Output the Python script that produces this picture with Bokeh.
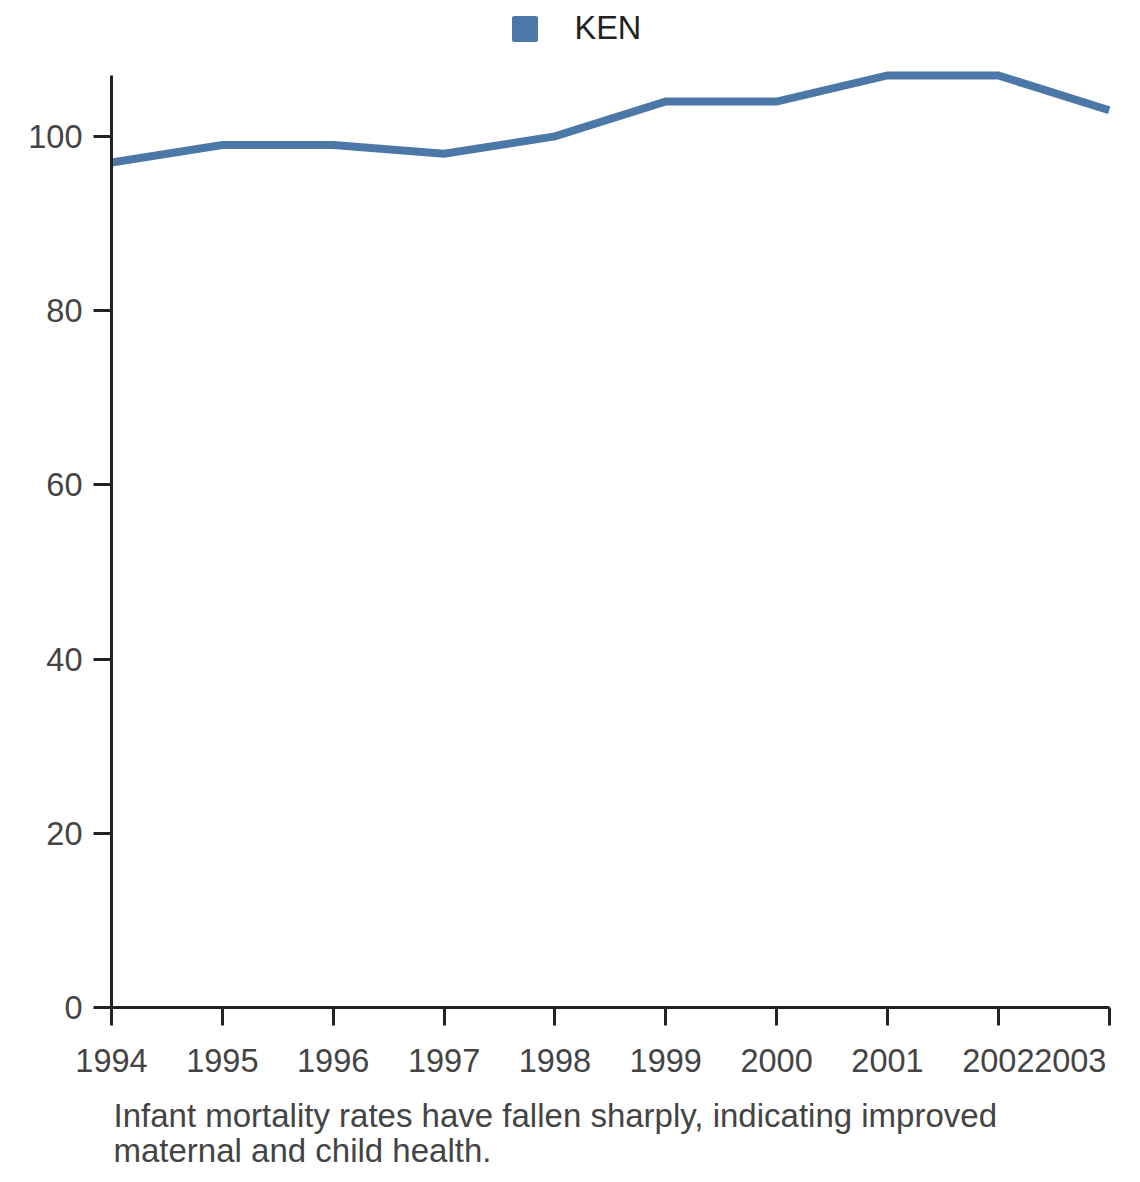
from bokeh.plotting import figure
from bokeh.models import Range1d, FixedTicker, Legend, LegendItem, Title
from bokeh.embed import file_html
from bokeh.resources import INLINE

# ---- data ----
years = [1994, 1995, 1996, 1997, 1998, 1999, 2000, 2001, 2002, 2003]
ken = [97, 99, 99, 98, 100, 104, 104, 107, 107, 103]
y_ticks = [0, 20, 40, 60, 80, 100]
series_name = "KEN"
caption_lines = [
    "Infant mortality rates have fallen sharply, indicating improved",
    "maternal and child health.",
]

FONT = "Liberation Sans"
COLOR = "#4c78a8"
AXIS = "#222222"
TXT = "#444444"
FS = "32.5px"

p = figure(
    width=1124, height=1182,
    output_backend="svg", toolbar_location=None,
    x_range=Range1d(1994, 2003.03), y_range=Range1d(0, 115.6),
    min_border_left=111, min_border_right=12,
    min_border_top=0, min_border_bottom=175,
)
p.outline_line_color = None
p.grid.visible = False

p.line(years, ken, line_color=COLOR, line_width=8, line_join="miter")

# axes
for ax in (p.xaxis[0], p.yaxis[0]):
    ax.axis_line_color = AXIS
    ax.axis_line_width = 3
    ax.major_tick_line_color = AXIS
    ax.major_tick_line_width = 3
    ax.major_tick_out = 18
    ax.major_tick_in = 0
    ax.minor_tick_line_color = None
    ax.major_label_text_font = FONT
    ax.major_label_text_font_size = FS
    ax.major_label_text_color = TXT

p.xaxis.ticker = FixedTicker(ticks=years)
p.xaxis.bounds = (years[0], years[-1])
p.xaxis.major_label_standoff = 17
# last label sits right-aligned at the axis end, as in the reference
p.xaxis.major_label_overrides = {years[-1]: str(years[-1]) + "\u00a0" * 2}
p.yaxis.ticker = FixedTicker(ticks=y_ticks)
p.yaxis.bounds = (0, 107)
p.yaxis.major_label_standoff = 11

# caption (two lines below the axis)
caption = Title(text="\n".join(caption_lines), align="left", offset=2, standoff=26,
                text_font=FONT, text_font_size="33px", text_color=TXT,
                text_font_style="normal", text_line_height=0.96)
p.add_layout(caption, "below")

# legend (square swatch, label to its right, above the plot area)
swatch = p.scatter(years, ken, marker="square", size=0, fill_color=COLOR,
                   line_color=COLOR, line_width=4, line_join="round")
legend = Legend(
    items=[LegendItem(label=series_name, renderers=[swatch])],
    location=(385.5, 951.5), glyph_width=55, glyph_height=55,
    label_standoff=23, padding=0, margin=0, spacing=0,
    border_line_color=None, background_fill_alpha=0,
    label_text_font=FONT, label_text_font_size=FS, label_text_color="#222222",
    label_text_baseline="middle",
)
p.add_layout(legend)

open("out.html", "w").write(file_html(p, INLINE))
